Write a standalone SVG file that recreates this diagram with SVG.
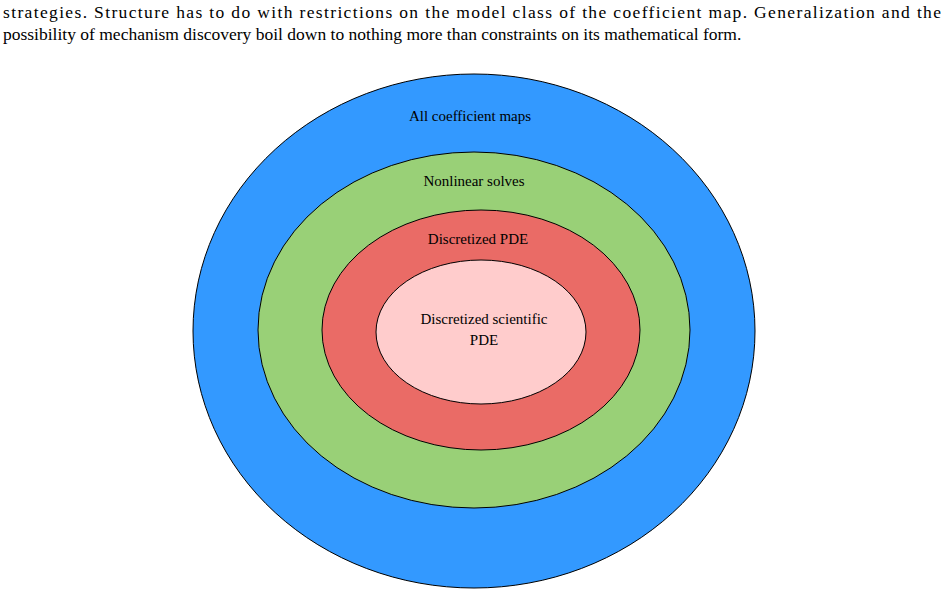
<svg xmlns="http://www.w3.org/2000/svg" width="948" height="595" viewBox="0 0 948 595">
<style>
.p{font-family:"Liberation Serif",serif;font-size:17.5px;fill:#000}
.l{font-family:"Liberation Serif",serif;font-size:15px;fill:#000;text-anchor:middle}
ellipse{stroke:#000;stroke-width:1}
</style>
<rect width="948" height="595" fill="#fff"/>
<text class="p" x="3" y="18" textLength="938" lengthAdjust="spacing">strategies.  Structure has to do with restrictions on the model class of the coefficient map.  Generalization and the</text>
<text class="p" x="3" y="40">possibility of mechanism discovery boil down to nothing more than constraints on its mathematical form.</text>
<g id="all"><ellipse cx="474" cy="331" rx="281" ry="257" fill="#3399ff"/><text class="l" x="470" y="121">All coefficient maps</text></g>
<g id="nonlinear"><ellipse cx="474" cy="330" rx="216" ry="178" fill="#99d077"/><text class="l" x="474" y="186">Nonlinear solves</text></g>
<g id="pde"><ellipse cx="481" cy="330" rx="159" ry="120" fill="#ea6b66"/><text class="l" x="478" y="244">Discretized PDE</text></g>
<g id="sci"><ellipse cx="481" cy="332" rx="105" ry="72" fill="#ffcccc"/><text class="l" x="484" y="324">Discretized scientific</text><text class="l" x="484" y="345">PDE</text></g>
<g id="connectors"/>
</svg>
